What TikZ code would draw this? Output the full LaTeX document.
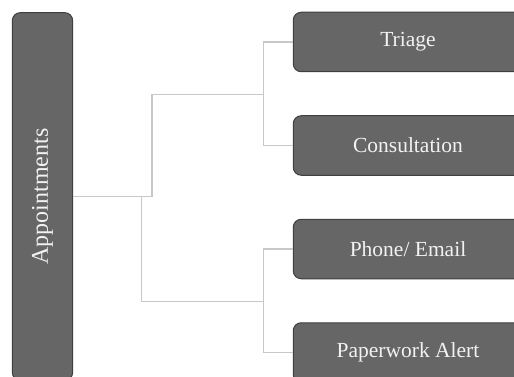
\documentclass[tikz,border=0pt]{standalone}
\usepackage{fontspec}
\setmainfont{Liberation Serif}
\usepackage{xcolor}
\usetikzlibrary{positioning}

\definecolor{boxfill}{HTML}{666666}
\definecolor{boxline}{HTML}{3F3F3F}
\definecolor{boxtext}{HTML}{F2F2F2}
\definecolor{linkgray}{HTML}{C8C8C8}

\begin{document}
\begin{tikzpicture}[x=1pt, y=1pt, node distance=43pt,
  block/.style={draw=boxline, line width=1pt, fill=boxfill, rounded corners=8pt, text=boxtext, inner sep=0pt, align=center, font=\fontsize{21.5}{26}\selectfont},
  item/.style={block, minimum width=229.5pt, minimum height=59.5pt},
  link/.style={draw=linkgray, line width=1.5pt}]
\useasboundingbox (0,0) rectangle (514,-377);
\clip (0,0) rectangle (514,-377);
\node (app) [block, rotate=90, minimum width=367.7pt, minimum height=60.4pt, font=\fontsize{24}{28}\selectfont] at (42.5,-196.5) {Appointments};
\node (tri) [item] at (408,-42) {Triage};
\node (con) [item, below=of tri] {Consultation};
\node (pho) [item, below=of con] {Phone/ Email};
\node (pap) [item, below=of pho] {Paperwork Alert};
\coordinate (fork) at (152,-196.5);
\coordinate (fork2) at (141.7,-196.5);
\coordinate (up) at (263.3,-94.7);
\coordinate (down) at (263.3,-301.3);
\draw[link] (app.south) -- (fork) |- (up);
\draw[link] (fork2) |- (down);
\draw[link] (tri.west) -| (up) |- (con.west);
\draw[link] (pho.west) -| (down) |- (pap.west);
\end{tikzpicture}
\end{document}
